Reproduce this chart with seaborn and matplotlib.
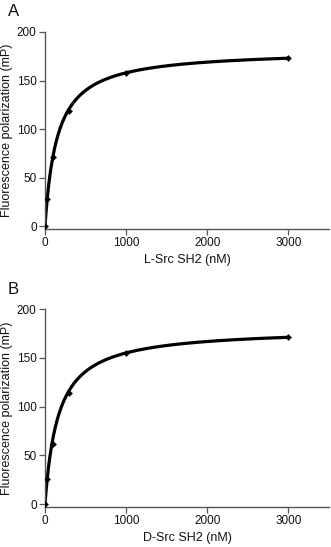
import numpy as np
import pandas as pd
import matplotlib
matplotlib.use("Agg")
import matplotlib.pyplot as plt
import seaborn as sns

# Data
conc_nM = [0, 30, 100, 300, 1000, 3000]
fp_L = [0, 28, 71, 119, 158, 173]
fp_D = [0, 26, 62, 114, 155, 171]
# one-site binding fit parameters (Bmax, Kd) estimated from the plotted curves
fit_L = (181.6, 149.5)
fit_D = (180.3, 163.3)
xticks = [0, 1000, 2000, 3000]
yticks = [0, 50, 100, 150, 200]
panels = ["A", "B"]
xlabels = ["L-Src SH2 (nM)", "D-Src SH2 (nM)"]
ylabel = "Fluorescence polarization (mP)"

sns.set_theme(style="ticks")
plt.rcParams['font.family'] = ['Liberation Sans', 'DejaVu Sans']

W, H = 331, 547
fig = plt.figure(figsize=(W / 100, H / 100), dpi=100)

def px_axes(left, top, right, bottom):
    return fig.add_axes([left / W, 1 - bottom / H, (right - left) / W, (bottom - top) / H])

layouts = [(45, 32, 329, 229), (45, 309, 329, 507)]
letter_pos = [(8, 4), (8, 282)]
datasets = [(fp_L, fit_L), (fp_D, fit_D)]
spine_col = "#555555"

for i, ((l, t, r, b), (fp, (bmax, kd))) in enumerate(zip(layouts, datasets)):
    ax = px_axes(l, t, r, b)
    xs = np.linspace(0, 3000, 400)
    curve = pd.DataFrame({"x": xs, "y": bmax * xs / (kd + xs)})
    sns.lineplot(data=curve, x="x", y="y", ax=ax, color="black", lw=2.3)
    pts = pd.DataFrame({"x": conc_nM, "y": fp})
    sns.scatterplot(data=pts, x="x", y="y", ax=ax, color="black", marker="D", s=10,
                    edgecolor="black", zorder=5)
    ax.set_xlim(0, 3500)
    ax.set_ylim(-3, 200)
    ax.set_xticks(xticks)
    ax.set_yticks(yticks)
    ax.tick_params(axis="both", labelsize=8.5, length=4, width=0.9, color=spine_col,
                   labelcolor="#111111", pad=2)
    for s in ["top", "right"]:
        ax.spines[s].set_visible(False)
    for s in ["left", "bottom"]:
        ax.spines[s].set_color(spine_col)
        ax.spines[s].set_linewidth(1.0)
    ax.set_xlabel(xlabels[i], fontsize=9, color="#111111", labelpad=3)
    ax.set_ylabel(ylabel, fontsize=9, color="#111111", labelpad=3)
    fig.text(letter_pos[i][0] / W, 1 - letter_pos[i][1] / H, panels[i], fontsize=12,
             va="top", ha="left", color="#111111")

fig.savefig("out.png", dpi=100, facecolor="white")
